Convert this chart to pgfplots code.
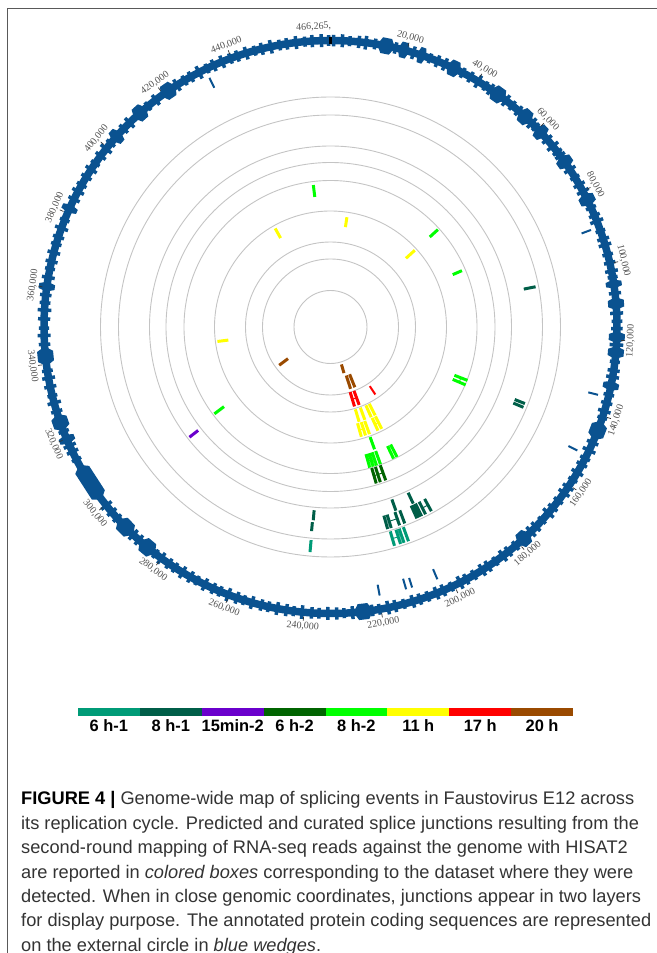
\documentclass[border=0pt]{standalone}
\usepackage{pgfplots}
\pgfplotsset{compat=1.18}
\usepgfplotslibrary{polar}
\usepackage{fontspec}
\setmainfont{Liberation Sans}
\newfontfamily\lblfont{Liberation Serif}
\definecolor{cds}{HTML}{0A5290}
\definecolor{c6a}{HTML}{009B77}
\definecolor{c8a}{HTML}{005E48}
\definecolor{c15}{HTML}{6A00CC}
\definecolor{c6b}{HTML}{006400}
\definecolor{c8b}{HTML}{00FF00}
\definecolor{c11}{HTML}{FFFF00}
\definecolor{c17}{HTML}{FF0000}
\definecolor{c20}{HTML}{9A4A00}
\definecolor{ringgray}{HTML}{C4C4C4}
\newcommand\glabel[3]{\addplot[draw=none, mark=none, nodes near coords={#3},
  every node near coord/.style={anchor=center, rotate=#2, inner sep=0pt,
  font=\lblfont\fontsize{10}{11}\selectfont, text=black!68}] coordinates {(#1,300.5)};}

\begin{document}
\begin{tikzpicture}
\useasboundingbox (0,0) rectangle (657bp,953bp);
\draw[line width=1bp, black!65] (7bp,0) -- (7bp,944bp) -- (657bp,944bp);

\begin{polaraxis}[
  at={(330.5bp,626bp)}, anchor=center,
  scale only axis, width=600bp, height=600bp,
  xmin=0, xmax=360, ymin=0, ymax=300,
  clip=false,
  axis line style={draw=none},
  xtick=\empty,
  ytick={36.5,68,85,116,146.5,164.5,181,212,230},
  yticklabels={},
  major tick length=0pt,
  ymajorgrids, grid style={ringgray, line width=0.9bp},
  extra y ticks={286.5}, extra y tick labels={},
  extra y tick style={grid=major, grid style={cds, line width=7.5bp}},
  empty line=jump,
  x filter/.expression={x<=116.566 ? 90-0.772093*x : 450-0.772093*x},
]
% small coding sequences on the external circle (position kb, radius; drawn at 0.72 of the radial extent)
\addplot[cds, line width=3.5bp, y filter/.expression={286.5+0.72*(y-287)}] table {
0.8 279
0.8 295

3.1 278
3.1 296

5.0 280
5.0 294

7.4 278.5
7.4 295.5

9.2 277.5
9.2 296.5

11.6 279.5
11.6 294.5

17.0 279
17.0 295

21.8 278
21.8 296

26.3 280
26.3 294

28.4 278.5
28.4 295.5

30.5 278
30.5 296

35.6 279.5
35.6 294.5

37.9 279
37.9 295

40.2 277.5
40.2 296.5

42.4 280
42.4 294

44.0 278.5
44.0 295.5

48.9 278
48.9 296

51.0 279.5
51.0 294.5

53.1 279
53.1 295

57.8 278
57.8 296

59.2 280
59.2 294

63.6 278.5
63.6 295.5

65.9 277.5
65.9 296.5

67.8 279.5
67.8 294.5

69.0 279
69.0 295

73.4 278
73.4 296

75.8 280
75.8 294

78.0 278.5
78.0 295.5

80.0 278
80.0 296

84.7 279.5
84.7 294.5

86.9 279
86.9 295

88.5 277.5
88.5 296.5

91.2 280
91.2 294

93.4 278.5
93.4 295.5

95.0 278
95.0 296

97.6 279.5
97.6 294.5

99.8 279
99.8 295

102.0 278
102.0 296

103.6 280
103.6 294

107.8 278.5
107.8 295.5

113.0 278
113.0 296

115.1 279.5
115.1 294.5

117.0 279
117.0 295

121.2 277.5
121.2 296.5

125.6 280
125.6 294

127.9 278.5
127.9 295.5

129.6 278
129.6 296

134.3 279.5
134.3 294.5

136.5 279
136.5 295

138.7 278
138.7 296

140.5 280
140.5 294

147.4 278.5
147.4 295.5

149.6 277.5
149.6 296.5

151.9 279.5
151.9 294.5

153.7 279
153.7 295

156.1 278
156.1 296

158.3 280
158.3 294

160.6 278.5
160.6 295.5

162.4 278
162.4 296

164.9 279.5
164.9 294.5

167.2 279
167.2 295

169.0 277.5
169.0 296.5

171.5 280
171.5 294

173.8 278.5
173.8 295.5

175.6 278
175.6 296

181.0 279.5
181.0 294.5

183.4 279
183.4 295

185.2 278
185.2 296

187.6 280
187.6 294

189.9 278.5
189.9 295.5

191.7 278
191.7 296

194.2 279.5
194.2 294.5

196.5 279
196.5 295

198.3 277.5
198.3 296.5

200.8 280
200.8 294

203.1 278.5
203.1 295.5

205.0 278
205.0 296

207.4 279.5
207.4 294.5

209.6 279
209.6 295

211.5 278
211.5 296

213.9 280
213.9 294

216.2 278.5
216.2 295.5

218.1 277.5
218.1 296.5

220.4 279.5
220.4 294.5

222.3 279
222.3 295

227.4 278
227.4 296

229.6 280
229.6 294

231.5 278.5
231.5 295.5

233.8 278
233.8 296

236.1 279.5
236.1 294.5

238.0 279
238.0 295

240.5 277.5
240.5 296.5

242.7 280
242.7 294

244.6 278.5
244.6 295.5

247.0 278
247.0 296

249.3 279.5
249.3 294.5

251.2 279
251.2 295

253.7 278
253.7 296

255.9 280
255.9 294

257.8 278.5
257.8 295.5

260.2 277.5
260.2 296.5

262.5 279.5
262.5 294.5

264.4 279
264.4 295

266.8 278
266.8 296

269.1 280
269.1 294

271.0 278.5
271.0 295.5

273.4 278
273.4 296

275.7 279.5
275.7 294.5

277.6 279
277.6 295

280.0 278
280.0 296

281.9 280
281.9 294

287.5 278.5
287.5 295.5

289.5 278
289.5 296

295.5 279.5
295.5 294.5

297.6 279
297.6 295

299.8 278
299.8 296

314.0 280
314.0 294

316.3 278.5
316.3 295.5

318.0 278
318.0 296

322.0 279.5
322.0 294.5

327.5 279
327.5 295

329.8 277.5
329.8 296.5

331.7 280
331.7 294

334.1 278.5
334.1 295.5

336.4 278
336.4 296

338.3 279.5
338.3 294.5

345.2 279
345.2 295

347.5 278
347.5 296

349.4 280
349.4 294

351.8 278.5
351.8 295.5

354.1 277.5
354.1 296.5

356.0 279.5
356.0 294.5

358.0 279
358.0 295

362.6 278
362.6 296

364.9 280
364.9 294

366.8 278.5
366.8 295.5

369.2 278
369.2 296

371.5 279.5
371.5 294.5

373.4 279
373.4 295

375.8 277.5
375.8 296.5

378.1 280
378.1 294

384.0 278.5
384.0 295.5

386.3 278
386.3 296

388.2 279.5
388.2 294.5

390.6 279
390.6 295

392.9 278
392.9 296

394.8 280
394.8 294

397.2 278.5
397.2 295.5

399.5 277.5
399.5 296.5

401.4 279.5
401.4 294.5

406.4 279
406.4 295

408.6 278
408.6 296

415.0 280
415.0 294

417.6 278.5
417.6 295.5

424.3 278
424.3 296

426.6 279.5
426.6 294.5

428.5 279
428.5 295

430.9 277.5
430.9 296.5

433.2 280
433.2 294

435.1 278.5
435.1 295.5

437.5 278
437.5 296

439.8 279.5
439.8 294.5

441.7 279
441.7 295

444.1 278
444.1 296

446.4 280
446.4 294

448.3 278.5
448.3 295.5

450.7 277.5
450.7 296.5

453.0 279.5
453.0 294.5

454.9 279
454.9 295

457.3 278
457.3 296

459.6 280
459.6 294

461.5 278.5
461.5 295.5

463.9 278
463.9 296

465.8 279.5
465.8 294.5
};
% large coding sequences (outline: position kb, radius; drawn at 0.8 of the radial extent)
\addplot[fill=cds, draw=none, y filter/.expression={286.5+0.8*(y-286.5)}] table {
12.17 286.5
13.34 296.5
15.66 296.5
16.83 286.5
15.66 276.5
13.34 276.5

17.64 286.5
18.42 296.5
19.98 296.5
20.76 286.5
19.98 276.5
18.42 276.5

22.72 286.5
23.36 296.5
24.64 296.5
25.28 286.5
24.64 276.5
23.36 276.5

31.02 286.5
32.01 296.5
33.99 296.5
34.98 286.5
33.99 276.5
32.01 276.5

43.97 286.5
45.14 296.5
47.46 296.5
48.63 286.5
47.46 276.5
45.14 276.5

53.31 286.5
54.35 296.5
56.45 296.5
57.49 286.5
56.45 276.5
54.35 276.5

59.43 286.5
60.26 296.5
61.94 296.5
62.77 286.5
61.94 276.5
60.26 276.5

69.19 286.5
70.09 296.5
71.91 296.5
72.81 286.5
71.91 276.5
70.09 276.5

80.59 286.5
81.49 296.5
83.31 296.5
84.21 286.5
83.31 276.5
81.49 276.5

104.24 286.5
104.82 296.5
105.98 296.5
106.56 286.5
105.98 276.5
104.82 276.5

108.83 286.5
109.66 296.5
111.34 296.5
112.17 286.5
111.34 276.5
109.66 276.5

117.64 286.5
118.42 296.5
119.98 296.5
120.76 286.5
119.98 276.5
118.42 276.5

121.53 286.5
122.36 296.5
124.04 296.5
124.87 286.5
124.04 276.5
122.36 276.5

130.6 286.5
131.25 296.5
132.55 296.5
133.2 286.5
132.55 276.5
131.25 276.5

141.33 286.5
142.66 296.5
145.34 296.5
146.67 286.5
145.34 276.5
142.66 276.5

176.11 286.5
177.15 296.5
179.25 296.5
180.29 286.5
179.25 276.5
177.15 276.5

222.04 286.5
223.32 296.5
225.88 296.5
227.16 286.5
225.88 276.5
223.32 276.5

282.04 286.5
283.32 296.5
285.88 296.5
287.16 286.5
285.88 276.5
283.32 276.5

289.51 286.5
290.9 296.5
293.7 296.5
295.09 286.5
293.7 276.5
290.9 276.5

301.75 286.5
303.25 296.5
310.95 296.5
312.45 286.5
310.95 276.5
303.25 276.5

318.52 286.5
319.16 296.5
320.44 296.5
321.08 286.5
320.44 276.5
319.16 276.5

322.17 286.5
323.34 296.5
325.66 296.5
326.83 286.5
325.66 276.5
323.34 276.5

339.54 286.5
340.82 296.5
343.38 296.5
344.66 286.5
343.38 276.5
340.82 276.5

358.92 286.5
359.56 296.5
360.84 296.5
361.48 286.5
360.84 276.5
359.56 276.5

380.14 286.5
380.72 296.5
381.88 296.5
382.46 286.5
381.88 276.5
380.72 276.5

402.14 286.5
402.92 296.5
404.48 296.5
405.26 286.5
404.48 276.5
402.92 276.5

410.21 286.5
411.25 296.5
413.35 296.5
414.39 286.5
413.35 276.5
411.25 276.5

419.27 286.5
420.44 296.5
422.76 296.5
423.93 286.5
422.76 276.5
420.44 276.5
};
% small coding sequences inside the circle
\addplot[cds, line width=2bp] table {
432.7 266
432.7 277

90.1 268
90.1 278

135.0 266
135.0 276

151.0 266
151.0 276

219.7 262
219.7 273

212.3 262
212.3 273

210.6 263
210.6 273

203.4 263
203.4 274
};
% coordinate ticks
\addplot[black, line width=3bp] table {
0 283
0 290
};
\addplot[black!80, line width=0.7bp] table {
20 291
20 295

40 291
40 295

60 291
60 295

80 291
80 295

100 291
100 295

120 291
120 295

140 291
140 295

160 291
160 295

180 291
180 295

200 291
200 295

220 291
220 295

240 291
240 295

260 291
260 295

280 291
280 295

300 291
300 295

320 291
320 295

340 291
340 295

360 291
360 295

380 291
380 295

400 291
400 295

420 291
420 295

440 291
440 295
};
% coordinate labels
\glabel{20}{-15.4}{20,000}
\glabel{40}{-30.9}{40,000}
\glabel{60}{-46.3}{60,000}
\glabel{80}{-61.8}{80,000}
\glabel{100}{-77.2}{100,000}
\glabel{120}{87.4}{120,000}
\glabel{140}{71.9}{140,000}
\glabel{160}{56.5}{160,000}
\glabel{180}{41.0}{180,000}
\glabel{200}{25.6}{200,000}
\glabel{220}{10.1}{220,000}
\glabel{240}{-5.3}{240,000}
\glabel{260}{-20.7}{260,000}
\glabel{280}{-36.2}{280,000}
\glabel{300}{-51.6}{300,000}
\glabel{320}{-67.1}{320,000}
\glabel{340}{-82.5}{340,000}
\glabel{360}{82.05}{360,000}
\glabel{380}{66.6}{380,000}
\glabel{400}{51.2}{400,000}
\glabel{420}{35.7}{420,000}
\glabel{440}{20.3}{440,000}
\glabel{462.1}{3.2}{466,265,}

% ---- splice junctions (position kb, radius) ----
% 20 h
\addplot[c20, line width=3bp] table {
302.17 53
302.17 64

212.02 39
212.02 48

209.82 51
209.82 65

204.64 51
204.64 65
};
% 17 h
\addplot[c17, line width=3bp] table {
211.37 68
211.37 83

206.97 68
206.97 83
};
\addplot[c17, line width=2bp] table {
189.61 71
189.61 81
};
\addplot[c17, line width=0.9bp] table {
211.37 75.5
206.97 75.5
};
% 11 h
\addplot[c11, line width=3bp] table {
211.37 86
211.37 99

206.84 86
206.84 99

212.80 100
212.80 114

209.95 100
209.95 114

207.23 100
207.23 114

201.66 86
201.66 99

198.42 86
198.42 99

201.27 100
201.27 114

198.55 100
198.55 114

340.25 103
340.25 114

428.32 102
428.32 113

11.01 101
11.01 111

61.78 102
61.78 114
};
\addplot[c11, line width=0.9bp] table {
212.80 107
209.95 107

201.27 107
198.55 107
};
% 8 h-2
\addplot[c8b, line width=3bp] table {
207.49 117
207.49 130

212.93 132
212.93 146

211.11 132
211.11 146

209.30 132
209.30 146

207.23 132
207.23 146

199.98 132
199.98 146

198.03 132
198.03 146

457.34 131
457.34 143

61.91 134
61.91 145

86.52 133
86.52 143

302.04 133
302.04 145

144.15 133
144.15 147

146.61 133
146.61 147
};
\addplot[c8b, line width=0.9bp] table {
212.93 139
211.11 139

144.15 140
146.61 140
};
% 6 h-2
\addplot[c6b, line width=3bp] table {
212.02 147
212.02 163

210.08 147
210.08 163

207.49 147
207.49 163
};
\addplot[c6b, line width=0.9bp] table {
212.02 155
207.49 155
};
% 15 min-2
\addplot[c15, line width=3bp] table {
300.48 168
300.48 179
};
% 8 h-1
\addplot[c8a, line width=3bp] table {
207.75 183
207.75 195

200.62 183
200.62 195

212.67 196
212.67 210

211.37 196
211.37 210

208.27 196
208.27 210

206.32 196
206.32 210

201.66 196
201.66 210

200.62 196
200.62 210

199.85 196
199.85 210

198.29 196
198.29 210

195.96 196
195.96 210

239.74 184
239.74 194

240.00 196
240.00 205

102.19 197
102.19 209

144.41 198
144.41 209

145.84 198
145.84 209
};
\addplot[c8a, line width=0.9bp] table {
211.37 203
208.27 203

198.29 203
195.96 203
};
% 6 h-1
\addplot[c6a, line width=3bp] table {
212.02 213
212.02 228

209.95 213
209.95 228

208.78 213
208.78 228

207.23 213
207.23 228

239.87 214
239.87 226
};
\addplot[c6a, line width=0.9bp] table {
212.02 220.5
209.95 220.5
};
\end{polaraxis}

% colour key
\fill[c6a] (78bp,237bp) rectangle (139.875bp,245bp);
\fill[c8a] (139.875bp,237bp) rectangle (201.75bp,245bp);
\fill[c15] (201.75bp,237bp) rectangle (263.625bp,245bp);
\fill[c6b] (263.625bp,237bp) rectangle (325.5bp,245bp);
\fill[c8b] (325.5bp,237bp) rectangle (387.375bp,245bp);
\fill[c11] (387.375bp,237bp) rectangle (449.25bp,245bp);
\fill[c17] (449.25bp,237bp) rectangle (511.125bp,245bp);
\fill[c20] (511.125bp,237bp) rectangle (573bp,245bp);
\begin{scope}[every node/.style={anchor=base, inner sep=0pt, font=\bfseries\fontsize{16.5}{18}\selectfont}]
\node at (108.9bp,221.3bp) {6 h-1};
\node at (170.8bp,221.3bp) {8 h-1};
\node at (232.7bp,221.3bp) {15min-2};
\node at (294.6bp,221.3bp) {6 h-2};
\node at (356.4bp,221.3bp) {8 h-2};
\node at (418.3bp,221.3bp) {11 h};
\node at (480.2bp,221.3bp) {17 h};
\node at (542.1bp,221.3bp) {20 h};
\end{scope}

% caption
\begin{scope}[every node/.style={anchor=base west, inner sep=0pt, text=black!80, font=\fontsize{18.3}{24}\selectfont}]
\node at (21bp,148bp) {\textcolor{black}{\textbf{FIGURE 4 |}} Genome-wide map of splicing events in Faustovirus E12 across};
\node at (21bp,123.65bp) {its replication cycle. Predicted and curated splice junctions resulting from the};
\node at (21bp,99.3bp) {second-round mapping of RNA-seq reads against the genome with HISAT2};
\node at (21bp,74.95bp) {are reported in \textit{colored boxes} corresponding to the dataset where they were};
\node at (21bp,50.6bp) {detected. When in close genomic coordinates, junctions appear in two layers};
\node at (21bp,26.25bp) {for display purpose. The annotated protein coding sequences are represented};
\node at (21bp,1.9bp) {on the external circle in \textit{blue wedges}.};
\end{scope}
\end{tikzpicture}
\end{document}
